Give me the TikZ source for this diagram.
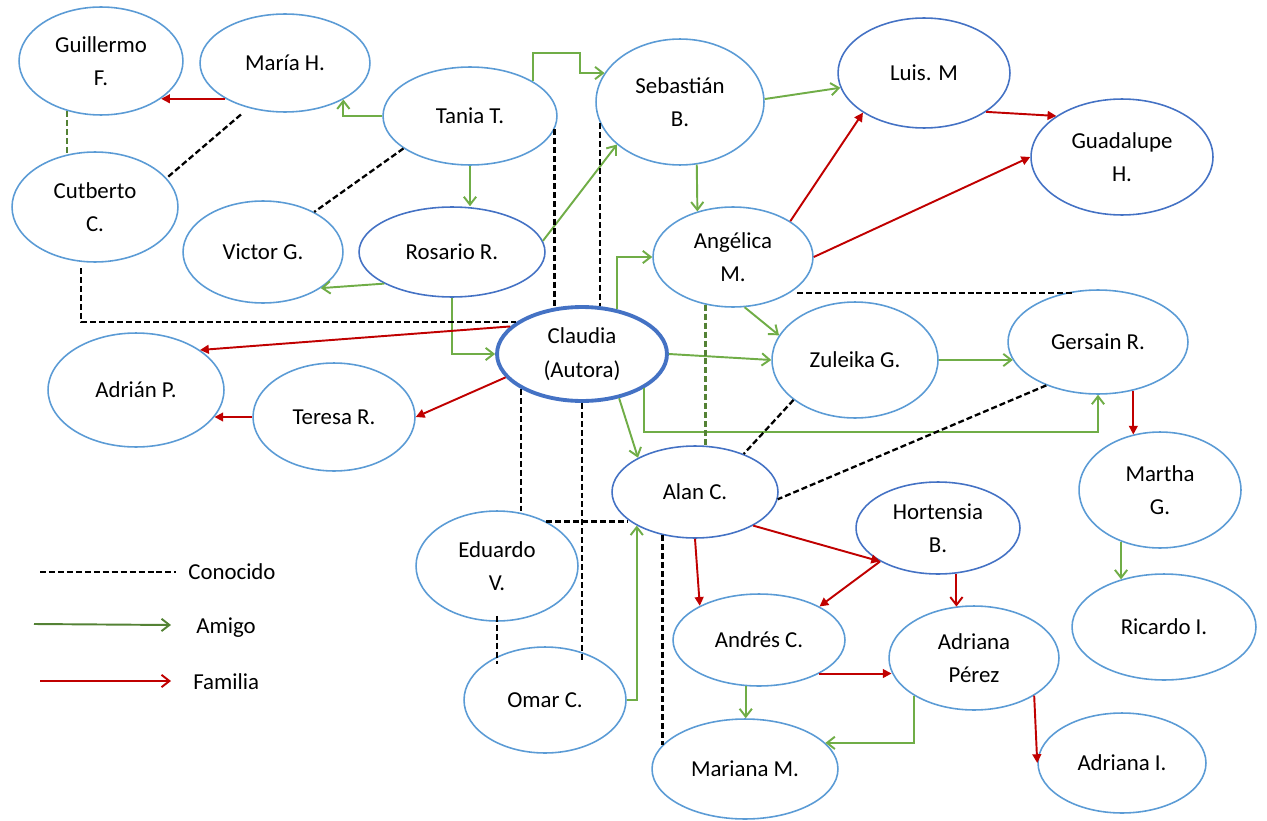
\documentclass[tikz,border=0pt]{standalone}
\usepackage{fontspec}
\setmainfont{Carlito}
\usetikzlibrary{arrows.meta,shapes.geometric}
\definecolor{eb}{HTML}{5B9BD5}
\definecolor{ed}{HTML}{4472C4}
\definecolor{gr}{HTML}{70AD47}
\definecolor{dg}{HTML}{548235}
\definecolor{rd}{HTML}{C00000}
\tikzset{
  pn/.style={ellipse, draw=eb, line width=0.9pt, inner sep=0pt, align=center,
    font=\fontsize{13}{19}\selectfont, text=black},
  pd/.style={pn, draw=ed},
  sz/.style 2 args={minimum width=#1*0.04cm, minimum height=#2*0.04cm},
  ami/.style={draw=gr, line width=1.1pt, -{Straight Barb[length=4.5pt,width=7pt]}},
  fam/.style={draw=rd, line width=1.1pt, -{Triangle[length=5pt,width=5pt]}},
  famo/.style={draw=rd, line width=1.1pt, -{Straight Barb[length=4.5pt,width=7pt]}},
  con/.style={draw=black, line width=1.3pt, dash pattern=on 3.4pt off 1.7pt},
  cong/.style={con, draw=dg},
  lt/.style={inner sep=0pt, font=\fontsize{13}{19}\selectfont, anchor=base west}
}
\begin{document}
\begin{tikzpicture}[x=0.02cm, y=-0.02cm]
\useasboundingbox (0,0) rectangle (1267,821);
% nodes
\node[pn, sz={82}{54}] (guil) at (101,61) {Guillermo\\F.};
\node[pn, sz={85}{49}] (maria) at (285,63) {María H.};
\node[pn, sz={83}{55}] (cut) at (95,207) {Cutberto\\C.};
\node[pn, sz={80}{51}] (victor) at (263,252) {Victor G.};
\node[pn, sz={87}{49}] (tania) at (470,116) {Tania T.};
\node[pd, sz={93}{45}] (rosario) at (452,252) {Rosario R.};
\node[pn, sz={84}{63}] (seb) at (680,102) {Sebastián\\B.};
\node[pn, sz={80}{50}] (ang) at (733,257) {Angélica\\M.};
\node[pd, sz={85}{47}, line width=2.2pt] (claudia) at (582,354) {Claudia\\(Autora)};
\node[pd, sz={86}{55}] (luis) at (924,73) {Luis. M};
\node[pd, sz={91}{58}] (guad) at (1122,157) {Guadalupe\\H.};
\node[pn, sz={83}{58}] (zul) at (855,360) {Zuleika G.};
\node[pn, sz={90}{52}] (gers) at (1098,342) {Gersain R.};
\node[pn, sz={81}{58}] (martha) at (1160,490) {Martha\\G.};
\node[pn, sz={92}{53}] (ricardo) at (1164,627) {Ricardo I.};
\node[pd, sz={82}{46}] (hort) at (938,528) {Hortensia\\B.};
\node[pn, sz={85}{52}] (adrper) at (974,658) {Adriana\\Pérez};
\node[pn, sz={84}{50}] (adrI) at (1122,763) {Adriana I.};
\node[pd, sz={83}{46}] (alan) at (695,492) {Alan C.};
\node[pn, sz={81}{55}] (eduardo) at (497,566) {Eduardo\\V.};
\node[pn, sz={81}{53}] (omar) at (545,700) {Omar C.};
\node[pn, sz={86}{46}] (andres) at (759,640) {Andrés C.};
\node[pn, sz={93}{50}] (mariana) at (745,769) {Mariana M.};
\node[pn, sz={88}{57}] (adrian) at (136,390) {Adrián P.};
\node[pn, sz={81}{54}] (teresa) at (334,417) {Teresa R.};
% amigo
\draw[ami] (tania.west) -| (maria.-32);
\draw[ami] (tania.29) |- (580,53) |- (seb.159);
\draw[ami] (tania.south) -- (rosario.north -| tania.south);
\draw[ami] (rosario.7) -- (seb.214);
\draw[ami] (rosario.205) -- (victor.328);
\draw[ami] (rosario.south) |- (claudia.west);
\draw[ami] (claudia.52) |- (ang.west);
\draw[ami] (seb.-75) -- (ang.128);
\draw[ami] (seb.2) -- (luis.190);
\draw[ami] (ang.-77) -- (zul.162);
\draw[ami] (claudia.east) -- (zul.west);
\draw[ami] (zul.east) -- (gers.192 |- zul.east);
\draw[ami] (claudia.-29) -- ++(0,44) -| (gers.south);
\draw[ami] (claudia.-50) -- (alan.149);
\draw[ami] (omar.east) -| (alan.210);
\draw[ami] (andres.254) -- (mariana.north -| andres.254);
\draw[ami] (adrper.212) |- (mariana.18);
\draw[ami] (martha.233) -- (ricardo.132 -| martha.233);
% familia
\draw[fam] (maria.211) -- (guil.328 |- maria.211);
\draw[fam] (claudia.159) -- (adrian.32);
\draw[fam] (claudia.197) -- (teresa.east);
\draw[fam] (teresa.west) -- (adrian.341 |- teresa.west);
\draw[fam] (ang.32) -- (luis.213);
\draw[fam] (ang.east) -- (guad.west);
\draw[fam] (luis.328) -- (guad.148);
\draw[fam] (gers.-54) -- (martha.116 -| gers.-54);
\draw[fam] (alan.-30) -- (hort.210);
\draw[fam] (hort.210) -- (andres.29);
\draw[famo] (hort.-68) -- (adrper.110 -| hort.-68);
\draw[fam] (alan.south) -- (andres.150);
\draw[fam] (andres.-29) -- (adrper.190 |- andres.-29);
\draw[fam] (adrper.-32) -- (adrI.west);
% conocido
\draw[cong] (guil.236) -- (cut.117 -| guil.236);
\draw[con, shorten <=0.2cm] (maria.231) -- (cut.22);
\draw[con] (tania.206) -- (victor.38);
\draw[con, shorten <=0.12cm] (cut.256) |- (claudia.154);
\draw[con] (tania.-9) -- (claudia.122 -| tania.-9);
\draw[con] (seb.195) -- (claudia.68 -| seb.195);
\draw[con, shorten <=0.14cm] (ang.-32) -- (gers.116 |- ang.-32);
\draw[cong] (ang.240) -- (alan.76 -| ang.240);
\draw[con] (zul.213) -- (alan.38);
\draw[con] (gers.220) -- (alan.-5);
\draw[con] (claudia.210) -- (eduardo.63 -| claudia.210);
\draw[con, shorten >=-0.2cm] (claudia.south) -- (omar.51 -| claudia.south);
\draw[con, shorten >=0.14cm] (eduardo.42) -- (alan.208 |- eduardo.42);
\draw[con, shorten <=-0.12cm, shorten >=-0.14cm] (eduardo.south) -- (omar.138 -| eduardo.south);
\draw[con] (alan.233) -- (mariana.164 -| alan.233);
% legend
\coordinate (lc1) at (40,572); \coordinate (lc2) at (176,572);
\coordinate (la1) at (34,624); \coordinate (la2) at (171,625);
\coordinate (lf1) at (40,681); \coordinate (lf2) at (171,681);
\draw[con] (lc1) -- (lc2);
\draw[draw=dg, line width=1.1pt, -{Straight Barb[length=4.5pt,width=7pt]}] (la1) -- (la2);
\draw[famo] (lf1) -- (lf2);
\node[lt] (lcon) at (188,579) {Conocido};
\node[lt] (lami) at (196,633) {Amigo};
\node[lt] (lfam) at (193,689) {Familia};
\end{tikzpicture}
\end{document}
